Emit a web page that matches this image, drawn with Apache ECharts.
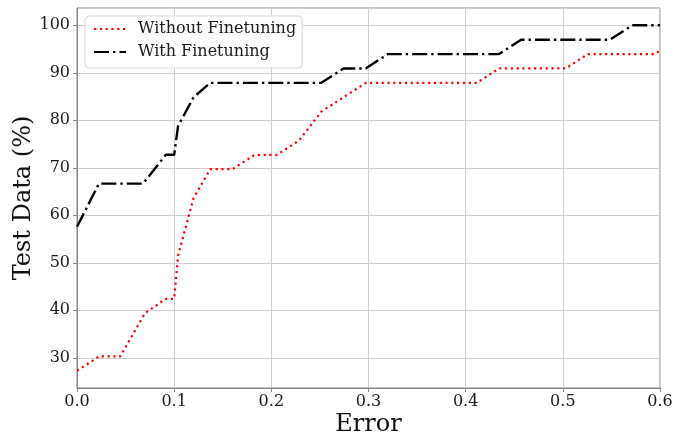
<!DOCTYPE html>
<html>
<head>
<meta charset="utf-8">
<script src="https://cdn.jsdelivr.net/npm/echarts@6/dist/echarts.min.js"></script>
<style>
html,body{margin:0;padding:0;background:#fff;}
#chart{width:675px;height:437px;}
</style>
</head>
<body>
<div id="chart"></div>
<script>
const seriesNames = ['Without Finetuning', 'With Finetuning'];
const withoutX = [0, 0.0229, 0.0445, 0.07, 0.0914, 0.1, 0.104, 0.12, 0.1371, 0.16, 0.1829, 0.2057, 0.2286, 0.2514, 0.2743, 0.2971, 0.4114, 0.4343, 0.5029, 0.5257, 0.5943, 0.6];
const withoutY = [27.27, 30.30, 30.30, 39.39, 42.42, 42.42, 51.52, 63.64, 69.70, 69.70, 72.73, 72.73, 75.76, 81.82, 84.85, 87.88, 87.88, 90.91, 90.91, 93.94, 93.94, 94.6];
const withX = [0, 0.0226, 0.068, 0.0914, 0.1, 0.104, 0.12, 0.1371, 0.2514, 0.2743, 0.2971, 0.32, 0.4343, 0.4571, 0.5486, 0.5714, 0.6];
const withY = [57.58, 66.67, 66.67, 72.73, 72.73, 78.79, 84.85, 87.88, 87.88, 90.91, 90.91, 93.94, 93.94, 96.97, 96.97, 100, 100];
const xTicks = [0, 0.1, 0.2, 0.3, 0.4, 0.5, 0.6];
const yTicks = [30, 40, 50, 60, 70, 80, 90, 100];

const FONT = 'DejaVu Serif';
const zip = (xs, ys) => xs.map((x, i) => [x, ys[i]]);

const chart = echarts.init(document.getElementById('chart'), null, {renderer: 'canvas'});
chart.setOption({
  animation: false,
  backgroundColor: '#fff',
  grid: {left: 77, right: 15, top: 8, bottom: 49, containLabel: false, outerBoundsMode: 'none',
    show: true, borderColor: '#888', borderWidth: 1, backgroundColor: 'transparent'},
  legend: {
    orient: 'vertical', left: 85, top: 16,
    padding: [5, 6, 8, 8], itemGap: 7, itemWidth: 32, itemHeight: 14,
    backgroundColor: '#fff', borderColor: '#d8d8d8', borderWidth: 1, borderRadius: 4,
    itemStyle: {opacity: 0},
    textStyle: {fontFamily: FONT, fontSize: 16, color: '#1a1a1a', padding: [0, 0, 0, 7]},
    data: seriesNames
  },
  xAxis: {
    type: 'value', min: xTicks[0], max: xTicks[xTicks.length - 1], interval: 0.1,
    name: 'Error', nameLocation: 'middle', nameGap: 25, nameMoveOverlap: false,
    nameTextStyle: {fontFamily: FONT, fontSize: 24, color: '#111'},
    axisLine: {show: true, lineStyle: {color: '#888'}},
    axisTick: {show: true, length: 4, lineStyle: {color: '#888'}},
    axisLabel: {fontFamily: FONT, fontSize: 16, color: '#1a1a1a', margin: 6, formatter: v => v.toFixed(1)},
    splitLine: {show: true, lineStyle: {color: '#cfcfcf', width: 1}}
  },
  yAxis: {
    type: 'value', min: 23.64, max: 103.64, splitNumber: 8,
    name: 'Test Data (%)', nameLocation: 'middle', nameGap: 41, nameMoveOverlap: false,
    nameTextStyle: {fontFamily: FONT, fontSize: 24, color: '#111'},
    axisLine: {show: true, lineStyle: {color: '#888'}},
    axisTick: {show: true, length: 4, lineStyle: {color: '#888'}},
    axisLabel: {fontFamily: FONT, fontSize: 16, color: '#1a1a1a', margin: 7, showMinLabel: false, showMaxLabel: false,
      formatter: v => (yTicks.indexOf(Math.round(v)) >= 0 && Math.abs(v - Math.round(v)) < 1e-6) ? String(Math.round(v)) : ''},
    splitLine: {show: true, lineStyle: {color: '#cfcfcf', width: 1}}
  },
  series: [
    {
      name: seriesNames[0], type: 'line', symbol: 'none', data: zip(withoutX, withoutY),
      lineStyle: {color: '#ff0000', width: 2.2, type: [2.2, 3.6], cap: 'butt'},
      itemStyle: {color: '#ff0000'}, z: 3
    },
    {
      name: seriesNames[1], type: 'line', symbol: 'none', data: zip(withX, withY),
      lineStyle: {color: '#000', width: 2.4, type: [15, 4, 2.4, 4], cap: 'butt'},
      itemStyle: {color: '#000'}, z: 4
    }
  ]
});
</script>
</body>
</html>
